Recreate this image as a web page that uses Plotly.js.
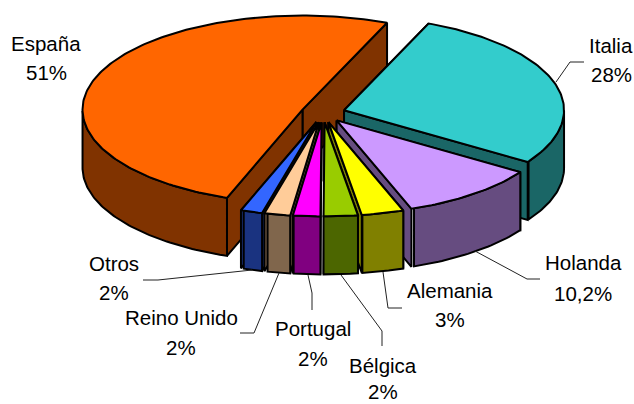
<!DOCTYPE html>
<html><head><meta charset="utf-8">
<script src="https://cdn.plot.ly/plotly-3.0.1.min.js"></script>
<style>html,body{margin:0;padding:0;background:#fff}</style></head>
<body><div id="chart" style="width:634px;height:404px"></div>
<script>
const categories = ["Italia","Holanda","Alemania","Bélgica","Portugal","Reino Unido","Otros","España"];
const values = [28,10.2,3.1,2.5,2,1.9,1.6,50.7];
const valueLabels = ["28%","10,2%","3%","2%","2%","2%","2%","51%"];
const topColors = ["#33CCCC","#CC99FF","#FFFF00","#99CC00","#FF00FF","#FFCC99","#3366FF","#FF6600"];
const sideColors = ["#1A6666","#664C80","#808000","#4C6600","#800080","#80664C","#1A3380","#803300"];
const labelX = [611,583,450,383,313,181,114,46];
const labelY = [45,262,290,365,328,317,263,43];
const valueY = [74,293,319,391,358,347,292,72];
const leaders = [
 [[556,82],[570,62],[584,62]],
 [[475,251],[527,279],[540,279]],
 [[383,272],[388,308],[402,308]],
 [[341,275],[382,331],[382,346]],
 [[308,275],[312,293],[312,310]],
 [[279,273],[254,333],[240,333]],
 [[252,270],[158,280],[143,280]],
 []
];
const drawOrder = [7,0,1,2,6,5,3,4];
const cx=323, cy=113, rx=220, ry=94, depth=58, explode=0.1, startAngle=22.6;
const total = values.reduce((a,b)=>a+b,0);
const rad = d=>d*Math.PI/180;
const pt = (ox,oy,a)=>[ox+rx*Math.sin(rad(a)), oy-ry*Math.cos(rad(a))];
let angle=startAngle;
const slices = values.map((v,i)=>{
  const a0=angle, a1=angle+v/total*360; angle=a1;
  const m=(a0+a1)/2;
  return {i,a0,a1,ox:cx+explode*rx*Math.sin(rad(m)),oy:cy-explode*ry*Math.cos(rad(m))};
});
const traces=[];
function poly(pts,color,w){
  traces.push({type:"scatter",mode:"lines",x:pts.concat([pts[0]]).map(p=>p[0]),y:pts.concat([pts[0]]).map(p=>p[1]),
    fill:"toself",fillcolor:color,line:{color:"#000",width:w===undefined?2:w,shape:"linear"},hoverinfo:"skip",showlegend:false});
}
drawOrder.forEach(k=>{
  const s=slices[k], quads=[];
  const down=p=>[p[0],p[1]+depth];
  const o=[s.ox,s.oy], p0=pt(s.ox,s.oy,s.a0), p1=pt(s.ox,s.oy,s.a1);
  quads.push([o,p0,down(p0),down(o)]);
  quads.push([o,p1,down(p1),down(o)]);
  const lo=Math.max(s.a0,90), hi=Math.min(s.a1,270);
  if(hi>lo){
    const arc=[];
    for(let a=lo;a<=hi+1e-6;a+=Math.min(1,(hi-lo)/4)) arc.push(pt(s.ox,s.oy,a));
    quads.push(arc.concat(arc.slice().reverse().map(down)));
  }
  quads.map(q=>({q,y:q.reduce((t,p)=>t+p[1],0)/q.length})).sort((a,b)=>a.y-b.y)
       .forEach(d=>poly(d.q,sideColors[k]));
  const top=[o];
  for(let a=s.a0;a<s.a1;a+=1) top.push(pt(s.ox,s.oy,a));
  top.push(p1);
  poly(top,topColors[k]);
});
leaders.forEach(l=>{ if(l.length) traces.push({type:"scatter",mode:"lines",x:l.map(p=>p[0]),y:l.map(p=>p[1]),
  line:{color:"#222",width:1},hoverinfo:"skip",showlegend:false}); });
const annotations=[];
categories.forEach((c,i)=>{
  [[c,labelY[i]],[valueLabels[i],valueY[i]]].forEach(([t,y])=>annotations.push({x:labelX[i],y,text:t,showarrow:false,
    xref:"x",yref:"y",xanchor:"center",yanchor:"middle",font:{family:"Liberation Sans, Arial, sans-serif",size:20.5,color:"#000"}}));
});
Plotly.newPlot("chart",traces,{
  width:634,height:404,margin:{l:0,r:0,t:0,b:0},paper_bgcolor:"#fff",plot_bgcolor:"#fff",showlegend:false,
  xaxis:{range:[0,634],visible:false,fixedrange:true},
  yaxis:{range:[404,0],visible:false,fixedrange:true},
  annotations
},{displayModeBar:false,staticPlot:true});
</script></body></html>
